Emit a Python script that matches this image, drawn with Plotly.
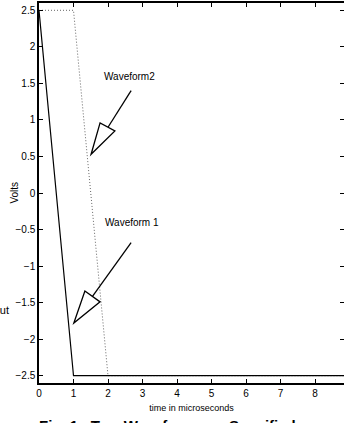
import plotly.graph_objects as go

# Data
wave1_t = [0, 1, 10]
wave1_v = [2.5, -2.5, -2.5]
wave2_t = [0, 1, 2, 10]
wave2_v = [2.5, 2.5, -2.5, -2.5]
x_ticks = [0, 1, 2, 3, 4, 5, 6, 7, 8]
y_ticks = [-2.5, -2, -1.5, -1, -0.5, 0, 0.5, 1, 1.5, 2, 2.5]
y_tick_labels = ["\u22122.5", "\u22122", "\u22121.5", "\u22121", "\u22120.5", "0", "0.5", "1", "1.5", "2", "2.5"]

FONT = "Liberation Sans"

fig = go.Figure()
fig.add_trace(go.Scatter(x=wave2_t, y=wave2_v, mode="lines",
                         line=dict(color="#666666", width=1, dash="1px,2px"), showlegend=False))
fig.add_trace(go.Scatter(x=wave1_t, y=wave1_v, mode="lines",
                         line=dict(color="black", width=1.2), showlegend=False))

# arrows (annotation geometry)
arrows = [
    dict(tail=(2.67, 1.40), base=(2.0, 0.90), tip=(1.51, 0.53), v1=(1.77, 0.96), v2=(2.20, 0.85)),
    dict(tail=(2.67, -0.68), base=(1.55, -1.415), tip=(1.01, -1.78), v1=(1.33, -1.34), v2=(1.77, -1.49)),
]
for a in arrows:
    fig.add_shape(type="line", x0=a["tail"][0], y0=a["tail"][1], x1=a["base"][0], y1=a["base"][1],
                  line=dict(color="black", width=1.3))
    p = "M {} {} L {} {} L {} {} Z".format(a["tip"][0], a["tip"][1], a["v1"][0], a["v1"][1], a["v2"][0], a["v2"][1])
    fig.add_shape(type="path", path=p, line=dict(color="black", width=1.3), fillcolor="white")

fig.add_annotation(x=2.61, y=1.60, text="Waveform2", showarrow=False,
                   font=dict(family=FONT, size=10, color="black"))
fig.add_annotation(x=2.70, y=-0.41, text="Waveform 1", showarrow=False,
                   font=dict(family=FONT, size=10, color="black"))
fig.add_annotation(xref="paper", yref="paper", x=-0.092, y=0.17, xanchor="right", text="Vout",
                   showarrow=False, font=dict(family=FONT, size=11, color="black"))
fig.add_annotation(xref="paper", yref="paper", x=0.42, y=-0.085, yanchor="top", xanchor="center",
                   text="<b>Fig. 1.  Two Waveforms as Specified</b>", showarrow=False,
                   font=dict(family=FONT, size=15, color="black"))
fig.add_annotation(xref="paper", yref="paper", x=-0.108, y=0.5, textangle=-90,
                   text="Volts", showarrow=False,
                   font=dict(family=FONT, size=10, color="black"))

axis_common = dict(showline=True, linecolor="black", linewidth=1.5, mirror="ticks",
                   ticks="inside", ticklen=4, tickwidth=1, tickcolor="black",
                   showgrid=False, zeroline=False, automargin=False,
                   tickfont=dict(family=FONT, size=10, color="black"))

fig.update_xaxes(range=[0, 8.84], tickvals=x_ticks,
                 title=dict(text="time in microseconds", font=dict(family=FONT, size=9, color="black"), standoff=7),
                 **axis_common)
fig.update_yaxes(range=[-2.6, 2.6], tickvals=y_ticks, ticktext=y_tick_labels,
                 **axis_common)

fig.update_layout(width=344, height=423, margin=dict(l=39, r=0, t=3, b=40, autoexpand=False),
                  plot_bgcolor="white", paper_bgcolor="white")

fig.write_html("out.html", config={"displayModeBar": False})

# remove default page margin so the figure sits at the window's top-left corner
with open("out.html", "r", encoding="utf-8") as f:
    html = f.read()
html = html.replace("<body>", "<body style=\"margin:0;overflow:hidden\">", 1)
with open("out.html", "w", encoding="utf-8") as f:
    f.write(html)
